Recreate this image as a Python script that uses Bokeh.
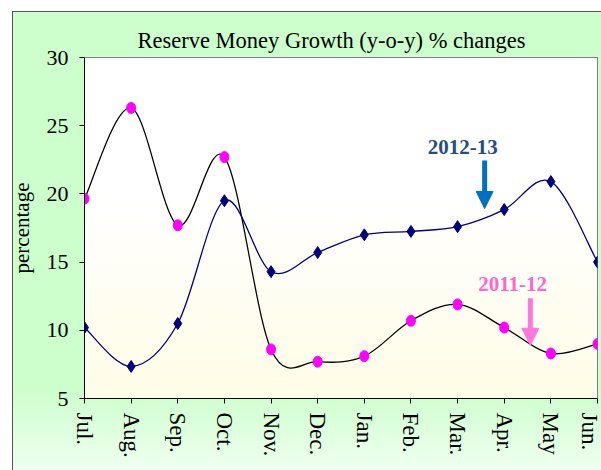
from bokeh.plotting import figure
from bokeh.embed import file_html
from bokeh.resources import INLINE
from bokeh.models import FixedTicker, Range1d, Arrow, NormalHead, Label, ColumnDataSource

months = ["Jul.", "Aug.", "Sep.", "Oct.", "Nov.", "Dec.", "Jan.", "Feb.", "Mar.", "Apr.", "May", "Jun."]
fy2012_13 = [10.2, 7.35, 10.5, 19.5, 14.3, 15.7, 17.0, 17.25, 17.6, 18.85, 20.9, 15.0]
fy2011_12 = [19.65, 26.3, 17.7, 22.7, 8.6, 7.7, 8.1, 10.7, 11.9, 10.2, 8.3, 9.0]
y_ticks = [5, 10, 15, 20, 25, 30]

FONT = "Liberation Serif"

p = figure(width=601, height=470, output_backend="svg", toolbar_location=None,
           x_range=Range1d(0, len(months) - 1), y_range=Range1d(5, 30),
           min_border_left=84, min_border_right=4, min_border_top=57, min_border_bottom=72)

p.border_fill_alpha = 0
p.background_fill_alpha = 0
p.styles = {
    "background": (
        "linear-gradient(#FFFFFF 40%, #FFFCE6) 84px 57px / 513px 341px no-repeat, "
        "linear-gradient(#CCFFCC 80%, #F4FFF4) 13px 12px / 100% 100% no-repeat, "
        "linear-gradient(#555555, #555555) 12px 11px / 100% 100% no-repeat, "
        "#FFFFFF"
    )
}
p.outline_line_color = "#808080"
p.outline_line_width = 1
p.grid.visible = False

p.title.text = "Reserve Money Growth (y-o-y) % changes"
p.title.text_font = FONT
p.title.text_font_size = "22.5px"
p.title.text_font_style = "normal"
p.title.align = "left"
p.title.offset = 53
p.title.text_color = "black"

# axes
p.xaxis.ticker = FixedTicker(ticks=list(range(len(months))))
p.xaxis.major_label_overrides = {i: m for i, m in enumerate(months)}
p.xaxis.major_label_orientation = "vertical"
p.yaxis.ticker = FixedTicker(ticks=y_ticks)
for ax in (p.xaxis[0], p.yaxis[0]):
    ax.axis_line_color = "black"
    ax.major_tick_line_color = "black"
    ax.minor_tick_line_color = None
    ax.major_tick_in = 0
    ax.major_tick_out = 5
    ax.major_label_text_font = FONT
    ax.major_label_text_color = "black"
p.xaxis.major_label_text_font_size = "23px"
p.yaxis.major_label_text_font_size = "22px"
p.xaxis.major_label_standoff = 9
p.yaxis.major_label_standoff = 11
p.yaxis.axis_label = "percentage"
p.yaxis.axis_label_text_font = FONT
p.yaxis.axis_label_text_font_size = "21px"
p.yaxis.axis_label_text_font_style = "normal"
p.yaxis.axis_label_text_color = "black"
p.yaxis.axis_label_standoff = 10


def bezier_source(vals):
    n = len(vals)
    xs = list(range(n))
    ext = [vals[0]] + list(vals) + [vals[-1]]
    xe = [xs[0]] + xs + [xs[-1]]
    d = dict(x0=[], y0=[], x1=[], y1=[], cx0=[], cy0=[], cx1=[], cy1=[])
    for i in range(n - 1):
        p0x, p0y = xe[i], ext[i]
        p1x, p1y = xe[i + 1], ext[i + 1]
        p2x, p2y = xe[i + 2], ext[i + 2]
        p3x, p3y = xe[i + 3], ext[i + 3]
        d["x0"].append(p1x); d["y0"].append(p1y)
        d["x1"].append(p2x); d["y1"].append(p2y)
        d["cx0"].append(p1x + (p2x - p0x) / 6); d["cy0"].append(p1y + (p2y - p0y) / 6)
        d["cx1"].append(p2x - (p3x - p1x) / 6); d["cy1"].append(p2y - (p3y - p1y) / 6)
    return ColumnDataSource(d)


src_b = bezier_source(fy2011_12)
p.bezier(x0="x0", y0="y0", x1="x1", y1="y1", cx0="cx0", cy0="cy0", cx1="cx1", cy1="cy1",
         source=src_b, line_color="black", line_width=1.3)
src_a = bezier_source(fy2012_13)
p.bezier(x0="x0", y0="y0", x1="x1", y1="y1", cx0="cx0", cy0="cy0", cx1="cx1", cy1="cy1",
         source=src_a, line_color="#000080", line_width=1.3)

xs = list(range(len(months)))
p.ellipse(x=xs, y=fy2011_12, width=9, height=11, width_units="screen", height_units="screen",
          fill_color="#FF00FF", line_color="#FF00FF")
p.scatter(x=xs, y=fy2012_13, marker="diamond", size=12, fill_color="#000080", line_color="#000080")

# annotations
p.add_layout(Label(x=8.11, y=22.95, text="2012-13", text_font=FONT, text_font_size="21px",
                   text_font_style="bold", text_color="#254E7E", text_align="center"))
p.add_layout(Arrow(x_start=8.58, y_start=22.45, x_end=8.58, y_end=18.93,
                   line_color="#0070C0", line_width=5,
                   end=NormalHead(size=17, fill_color="#0070C0", line_color="#0070C0")))
p.add_layout(Label(x=9.18, y=12.85, text="2011-12", text_font=FONT, text_font_size="21px",
                   text_font_style="bold", text_color="#FF66CC", text_align="center"))
p.add_layout(Arrow(x_start=9.56, y_start=12.35, x_end=9.56, y_end=8.9,
                   line_color="#FF77DD", line_width=5,
                   end=NormalHead(size=17, fill_color="#FF77DD", line_color="#FF77DD")))

open("out.html", "w").write(file_html(p, INLINE))
